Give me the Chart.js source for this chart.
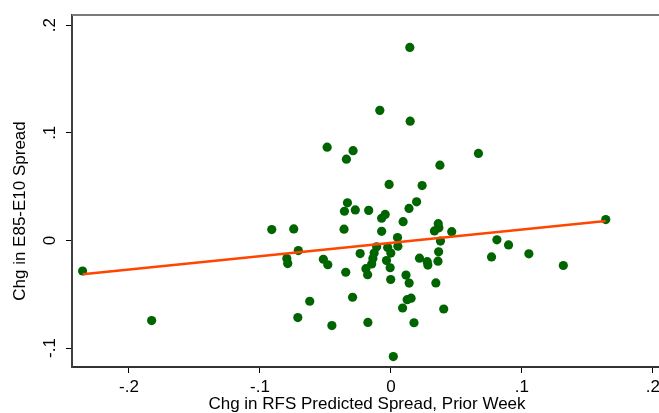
<!DOCTYPE html>
<html>
<head>
<meta charset="utf-8">
<script src="https://cdn.jsdelivr.net/npm/chart.js@4.4.1/dist/chart.umd.min.js"></script>
<style>
  html, body { margin: 0; padding: 0; background: #fff; overflow: hidden; }
  #wrap { width: 680px; height: 413px; }
</style>
</head>
<body>
<div id="wrap"><canvas id="scatterChart"></canvas></div>
<script>
// Chg in RFS predicted spread (prior week) vs chg in E85-E10 spread
const xVals = [-0.2354, -0.1827, -0.0910, -0.0742, -0.0707, -0.0795, -0.0788, -0.0620, -0.0711, -0.0516,
  -0.0482, -0.0451, -0.0487, 0.0144, -0.0085, 0.0147, -0.0289, -0.0340, 0.0668, 0.0374,
  -0.0014, 0.0238, -0.0332, -0.0355, -0.0272, -0.0170, 0.0196, 0.0138, -0.0071, -0.0044,
  0.0093, -0.0358, -0.0071, 0.0361, 0.0366, 0.0332, 0.0464, 0.0050, 0.0378, 0.0809,
  0.0898, 0.1640, -0.0235, -0.0109, -0.0128, -0.0138, -0.0147, -0.0025, -0.0001, -0.0034,
  -0.0006, 0.0053, 0.0364, 0.0359, 0.0218, 0.0277, 0.0282, 0.0768, 0.1053, 0.1316,
  -0.0345, -0.0191, -0.0178, -0.0002, 0.0115, 0.0139, 0.0343, -0.0293, 0.0154, 0.0124,
  0.0089, 0.0403, -0.0176, 0.0176, 0.0018];
const yVals = [-0.0284, -0.0745, 0.0101, 0.0107, -0.0094, -0.0168, -0.0215, -0.0565, -0.0717, -0.0175,
  -0.0226, -0.0791, 0.0866, 0.1793, 0.1208, 0.1108, 0.0834, 0.0755, 0.0808, 0.0699,
  0.0520, 0.0509, 0.0349, 0.0271, 0.0283, 0.0279, 0.0358, 0.0297, 0.0206, 0.0241,
  0.0174, 0.0104, 0.0084, 0.0155, 0.0117, 0.0088, 0.0081, 0.0026, -0.0006, 0.0005,
  -0.0042, 0.0194, -0.0122, -0.0059, -0.0117, -0.0168, -0.0219, -0.0066, -0.0118, -0.0187,
  -0.0254, -0.0054, -0.0106, -0.0193, -0.0165, -0.0198, -0.0229, -0.0153, -0.0125, -0.0233,
  -0.0296, -0.0263, -0.0319, -0.0363, -0.0322, -0.0396, -0.0395, -0.0528, -0.0537, -0.0551,
  -0.0628, -0.0637, -0.0762, -0.0765, -0.1079];
// fitted line endpoints
const fitX = [-0.2354, 0.1640];
const fitY = [-0.0314, 0.0181];
const xTicks = [-0.2, -0.1, 0, 0.1, 0.2];
const yTicks = [-0.1, 0, 0.1, 0.2];

const FONT = '"Liberation Sans", Arial, sans-serif';

// Stata style tick labels: .1, -.2, 0
const fmt = v => {
  if (Math.abs(v) < 1e-9) return '0';
  return (v < 0 ? '-' : '') + String(Math.round(Math.abs(v) * 10) / 10).replace(/^0/, '');
};

const stataDecor = {
  id: 'stataDecor',
  afterDraw(chart) {
    const { ctx, chartArea, scales } = chart;
    ctx.save();
    // top border of plot region
    ctx.strokeStyle = '#7a7a7a';
    ctx.lineWidth = 2;
    ctx.beginPath();
    ctx.moveTo(chartArea.left, chartArea.top);
    ctx.lineTo(chartArea.right, chartArea.top);
    ctx.stroke();

    ctx.fillStyle = '#000';
    ctx.font = '17px ' + FONT;
    ctx.textAlign = 'center';
    ctx.textBaseline = 'middle';
    // rotated y tick labels
    yTicks.forEach(v => {
      const py = scales.y.getPixelForValue(v);
      ctx.save();
      ctx.translate(50, py);
      ctx.rotate(-Math.PI / 2);
      ctx.fillText(fmt(v), 0, 0);
      ctx.restore();
    });
    // y title
    ctx.save();
    ctx.translate(20, 211);
    ctx.rotate(-Math.PI / 2);
    ctx.fillText('Chg in E85-E10 Spread', 0, 0);
    ctx.restore();
    // x title
    ctx.fillText('Chg in RFS Predicted Spread, Prior Week', 367, 404);
    ctx.restore();
  }
};

document.addEventListener('DOMContentLoaded', () => {
  const ctx = document.getElementById('scatterChart').getContext('2d');

  new Chart(ctx, {
    type: 'scatter',
    data: {
      datasets: [
        {
          label: 'Fitted',
          data: fitX.map((x, i) => ({ x: x, y: fitY[i] })),
          showLine: true,
          borderColor: '#ff4500',
          borderWidth: 2.5,
          pointRadius: 0,
          fill: false
        },
        {
          label: 'Obs',
          data: xVals.map((x, i) => ({ x: x, y: yVals[i] })),
          backgroundColor: '#006400',
          borderColor: '#006400',
          borderWidth: 0,
          pointRadius: 4.6
        }
      ]
    },
    options: {
      responsive: true,
      maintainAspectRatio: false,
      animation: false,
      layout: { padding: { top: 15, left: 0, right: 14, bottom: 0 } },
      plugins: {
        legend: { display: false },
        tooltip: { enabled: false }
      },
      scales: {
        x: {
          type: 'linear',
          min: -0.2435,
          max: 0.21,
          afterBuildTicks: s => { s.ticks = xTicks.map(v => ({ value: v })); },
          afterFit: s => { s.height = 46; },
          border: { display: true, color: '#333', width: 2 },
          grid: { display: true, drawOnChartArea: false, drawTicks: true, tickLength: 6, color: '#000', lineWidth: 1 },
          ticks: {
            color: '#000',
            padding: 4,
            maxRotation: 0,
            font: { family: FONT, size: 17 },
            callback: v => fmt(v)
          }
        },
        y: {
          type: 'linear',
          min: -0.1176,
          max: 0.2094,
          afterBuildTicks: s => { s.ticks = yTicks.map(v => ({ value: v })); },
          afterFit: s => { s.width = 72; },
          border: { display: true, color: '#404040', width: 2 },
          grid: { display: true, drawOnChartArea: false, drawTicks: true, tickLength: 6, color: '#000', lineWidth: 1 },
          ticks: { display: false }
        }
      }
    },
    plugins: [stataDecor]
  });
});
</script>
</body>
</html>
